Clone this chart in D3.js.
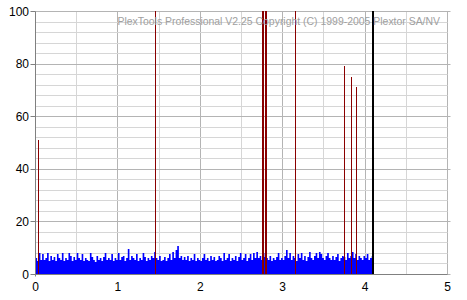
<!DOCTYPE html>
<html><head><meta charset="utf-8">
<script src="https://cdn.jsdelivr.net/npm/d3@7"></script>
<style>body{margin:0;background:#fff;}svg{display:block;font-family:Arial,"Liberation Sans",sans-serif;}</style>
</head><body>
<svg id="c" width="467" height="300"></svg>
<script>
const title = "PlexTools Professional V2.25 Copyright (C) 1999-2005 Plextor SA/NV";
const xTicks = [0, 1, 2, 3, 4, 5];
const yTicks = [0, 20, 40, 60, 80, 100];
const noiseStep = 0.02;
const noiseValues = [
6,5,8,5.5,7.5,5.5,6,8,5,7,
5.5,6.5,5,7.5,6,5.5,8,5,6,5.5,
8,7,5,6.5,5.5,8,6,5.5,7.5,5,
6,5.5,5,8,6.5,5.5,4.5,7,5.5,6,
5,6.5,8,5.5,6,5.5,7.5,5,6,5.5,
8,5.5,6.5,7,5,6,9.5,5.5,7,6,
5.5,7.5,5,6,5.5,8,6.5,5,6,5.5,
7,6,8.5,6,5.5,7,5,5.5,6.5,5,
6,7.5,5.5,8.5,6,9,10.5,6,7,5.5,
6.5,5.5,7,5,6,5.5,7.5,5,6,5.5,
5,6,7.5,5.5,6,5,7,5.5,6.5,5,
5.5,7,6,5,8,5.5,6,7.5,5,6,
5.5,7,5,6.5,8,5.5,6,7.5,5,6,
7.5,5.5,8,6,8.5,6,7,5.5,6.5,8,
6,5.5,7,5,6,5.5,6.5,8,5.5,6,
5.5,7,9,6,8,5.5,7,6,5,7.5,
6,8,5.5,7,5,6.5,8.5,6,5.5,7,
8,6,8.5,7.5,6,5.5,7,8,6,5.5,
7,5.5,6.5,7.5,5,6,7,6.5,5.5,8,
6,7,8.5,6,7.5,5.5,7,6,5.5,7,
6,7.5,5.5,6,7,6];
const spikePos    = [0.036, 1.456, 2.762, 2.798, 3.159, 3.754, 3.835, 3.899, 4.088];
const spikeHeight = [51, 100, 100, 100, 100, 79, 75, 71, 54];
const spikeWide   = [1, 1, 2, 2, 1, 1, 1, 1, 1];
const markerPos = 4.105;

const svg = d3.select("#c");
const x = d3.scaleLinear().domain([0, 5]).range([35, 447]);
const y = d3.scaleLinear().domain([0, 100]).range([274, 11]);
const px = v => Math.round(v) + 0.5;

// grid
const g = svg.append("g");
d3.range(0, 5.01, 0.5).forEach(v => {
  const major = Math.abs(v - Math.round(v)) < 1e-6;
  g.append("line").attr("x1", px(x(v))).attr("x2", px(x(v))).attr("y1", px(y(100))).attr("y2", px(y(0)))
    .attr("stroke", major ? "#b4b4b4" : "#d6d6d6").attr("stroke-width", 1);
});
d3.range(0, 100.1, 4).forEach(v => {
  const major = v % 20 === 0;
  g.append("line").attr("x1", px(x(0))).attr("x2", major ? px(x(5)) + 3 : px(x(5))).attr("y1", px(y(v))).attr("y2", px(y(v)))
    .attr("stroke", major ? "#b4b4b4" : "#d6d6d6").attr("stroke-width", 1);
});

// noise area
const pts = noiseValues.map((v, i) => [i * noiseStep, v]);
const area = d3.area().x(d => x(d[0]) + 0.5).y0(px(y(0))).y1(d => Math.round(y(d[1]))).curve(d3.curveStepAfter);
svg.append("path").datum(pts).attr("d", area).attr("fill", "#0000ff");

// spikes
svg.selectAll("line.sp").data(spikePos).enter().append("line").attr("class", "sp")
  .attr("x1", (d, i) => spikeWide[i] === 2 ? Math.round(x(d)) : px(x(d)))
  .attr("x2", (d, i) => spikeWide[i] === 2 ? Math.round(x(d)) : px(x(d)))
  .attr("y1", px(y(0))).attr("y2", (d, i) => Math.round(y(spikeHeight[i])))
  .attr("stroke", "#8a0000").attr("stroke-width", (d, i) => spikeWide[i]);

// marker
svg.append("line").attr("x1", Math.round(x(markerPos))).attr("x2", Math.round(x(markerPos)))
  .attr("y1", px(y(0))).attr("y2", Math.round(y(100)))
  .attr("stroke", "#000").attr("stroke-width", 2);

// axes
svg.append("line").attr("x1", px(x(0))).attr("x2", px(x(0))).attr("y1", px(y(100))).attr("y2", px(y(0)) + 2).attr("stroke", "#808080");
svg.append("line").attr("x1", px(x(0))).attr("x2", px(x(5))).attr("y1", px(y(0))).attr("y2", px(y(0))).attr("stroke", "#808080");
yTicks.forEach(v => {
  svg.append("line").attr("x1", px(x(0)) - 5).attr("x2", px(x(0))).attr("y1", px(y(v))).attr("y2", px(y(v))).attr("stroke", "#808080");
  svg.append("text").attr("x", 29).attr("y", y(v) + 4.5).attr("text-anchor", "end")
    .attr("font-size", 12).attr("fill", "#000").text(v);
});
xTicks.forEach(v => {
  svg.append("text").attr("x", x(v) + 0.5).attr("y", 291).attr("text-anchor", "middle")
    .attr("font-size", 12).attr("fill", "#000").text(v);
});

// title
const t = svg.append("text").attr("x", 440).attr("y", 24.5).attr("text-anchor", "end")
  .attr("font-size", 11.5).attr("fill", "#a0a0a0").text(title);
const w = t.node().getComputedTextLength();
t.attr("font-size", 11.5 * 323 / w);
</script>
</body></html>
